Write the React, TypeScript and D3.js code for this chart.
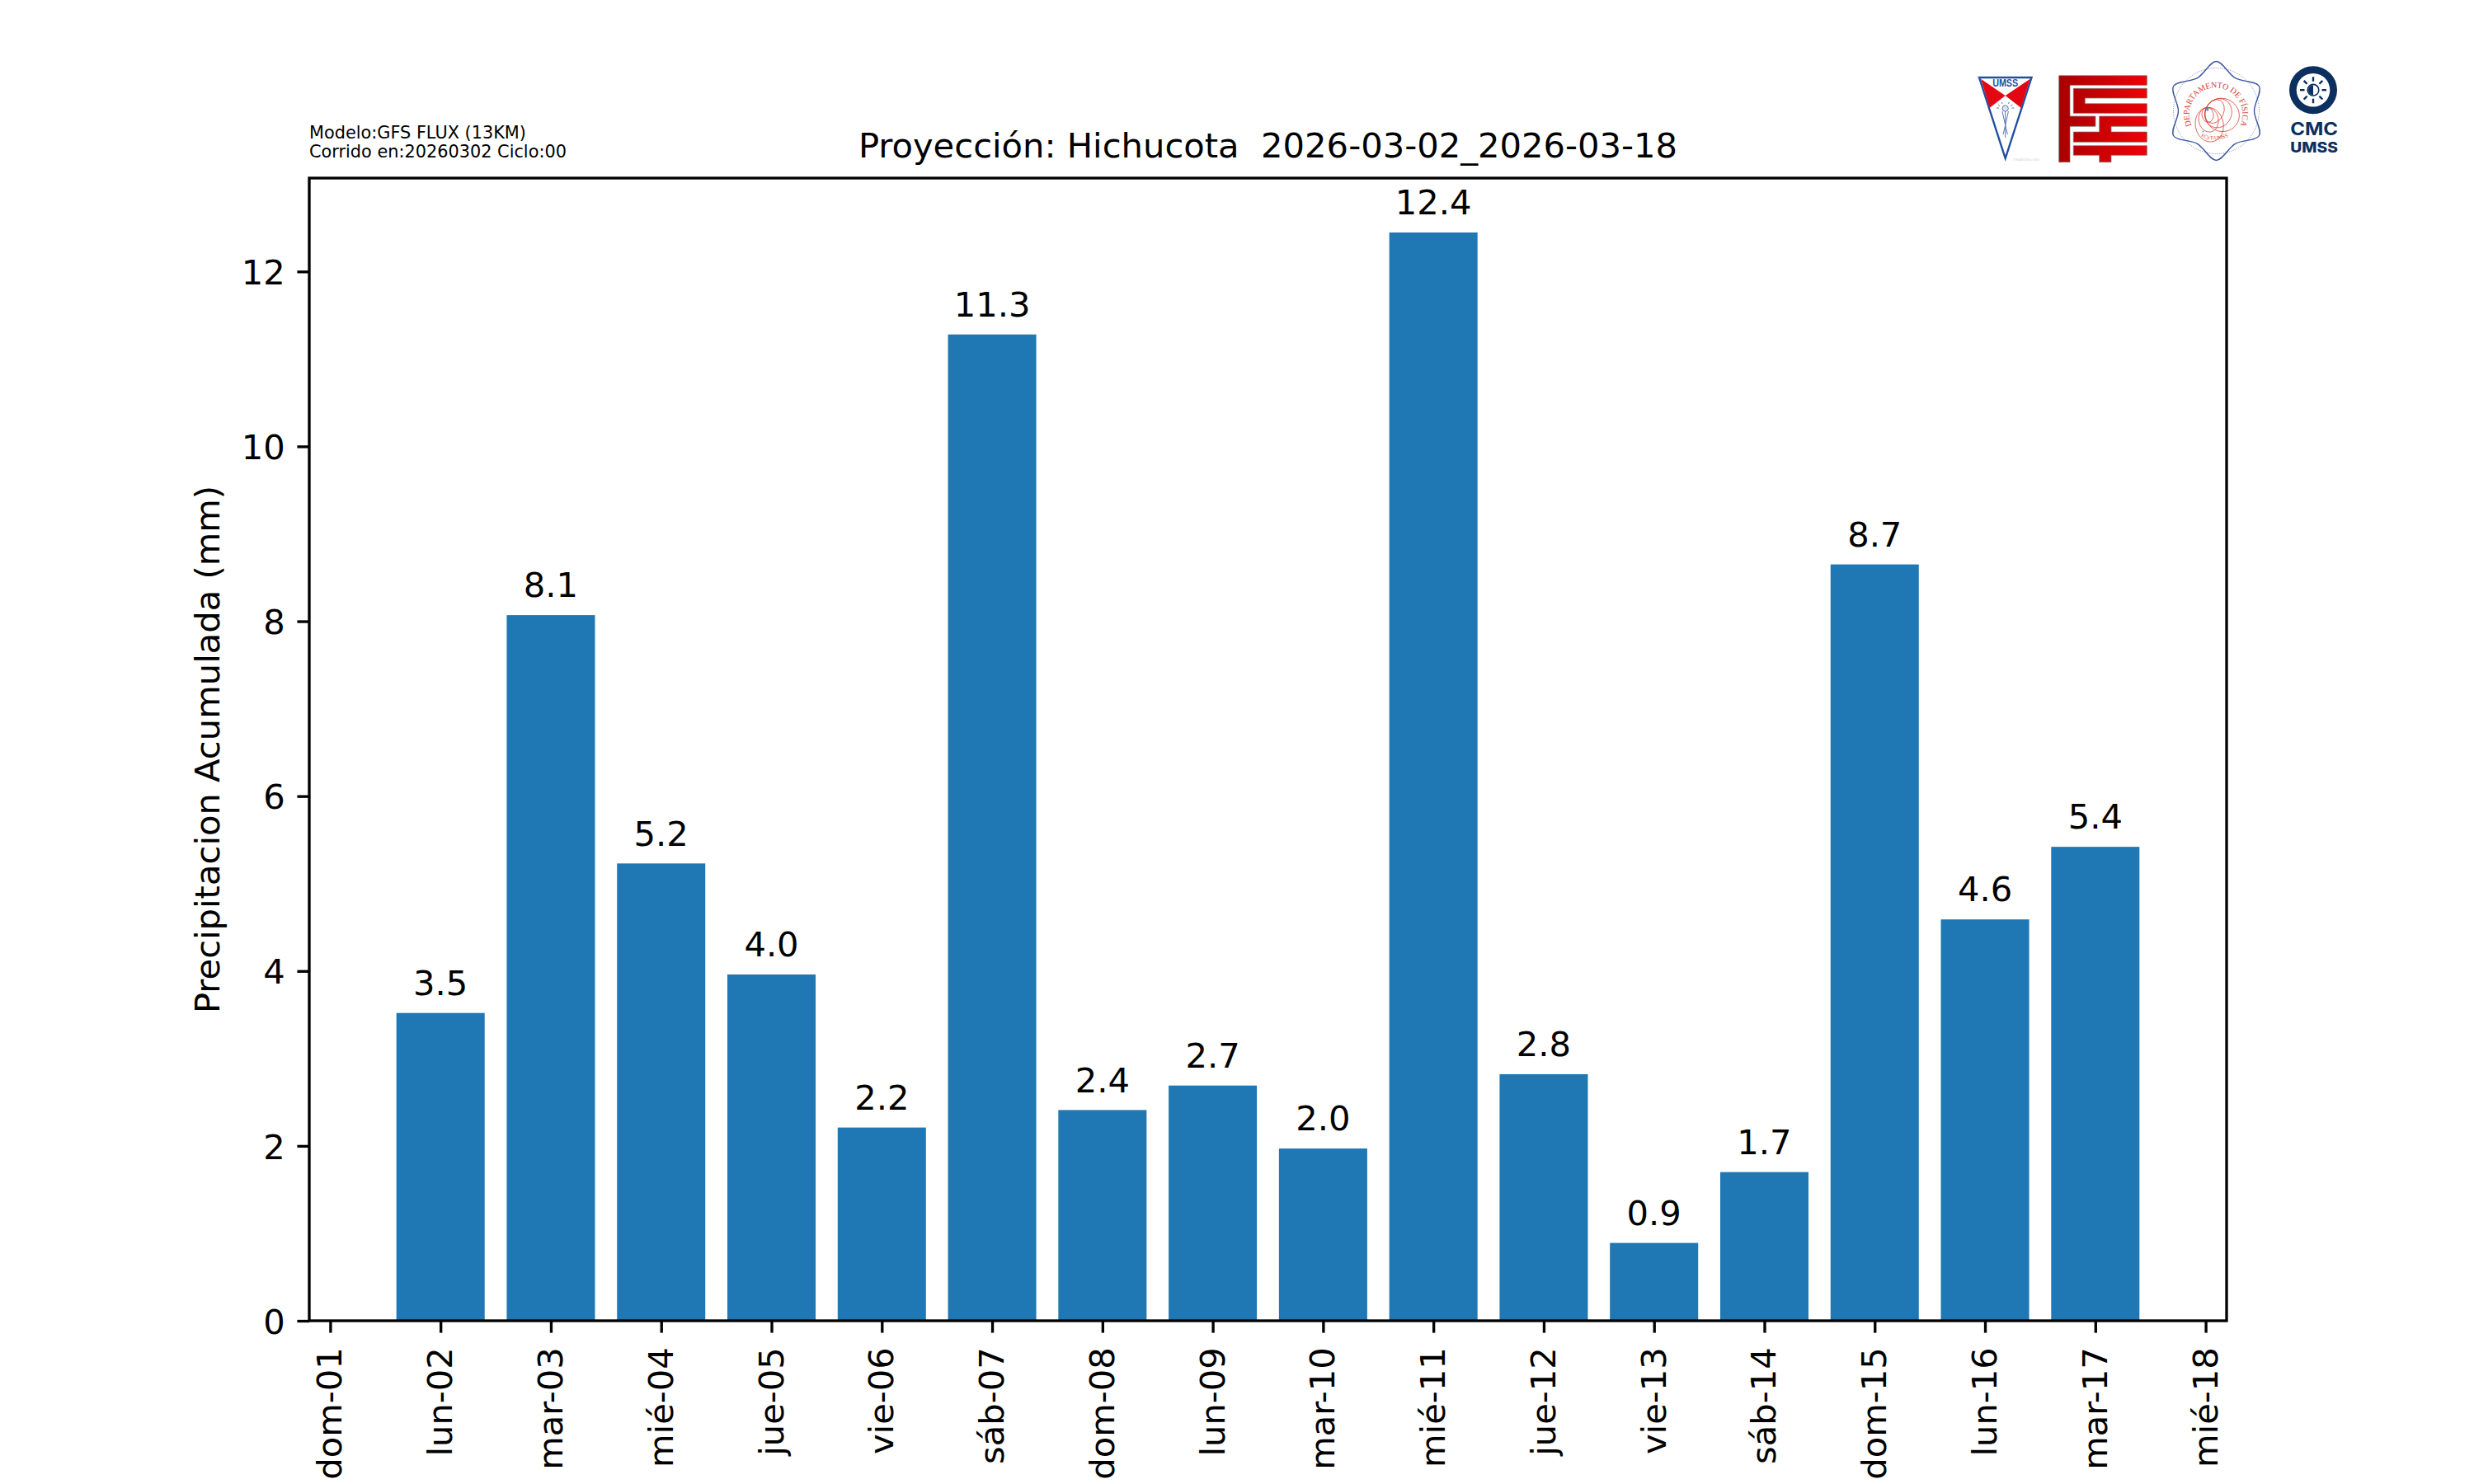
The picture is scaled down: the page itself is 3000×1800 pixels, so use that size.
import { useEffect, useRef } from 'react';
import * as d3 from 'd3';

const dayLabels = ['dom-01', 'lun-02', 'mar-03', 'mié-04', 'jue-05', 'vie-06', 'sáb-07', 'dom-08', 'lun-09', 'mar-10', 'mié-11', 'jue-12', 'vie-13', 'sáb-14', 'dom-15', 'lun-16', 'mar-17', 'mié-18'];
const barDays = [2, 3, 4, 5, 6, 7, 8, 9, 10, 11, 12, 13, 14, 15, 16, 17];
const precip = [3.52, 8.07, 5.23, 3.96, 2.21, 11.28, 2.41, 2.69, 1.97, 12.446, 2.82, 0.89, 1.7, 8.65, 4.59, 5.42];
const yTicks = [0, 2, 4, 6, 8, 10, 12];

const WIDTH = 3000;
const HEIGHT = 1800;
const FONT = '"DejaVu Sans"';
const PT = 300 / 72;
const margin = { top: 216, right: 300, bottom: 198, left: 375 };
const BAR_WIDTH = 0.8;

const RED = '#e30613';
const NAVY = '#0b2f5f';
const SHIELD_BLUE = '#2150a0';
const SEAL_BLUE = '#3c559f';
const SEAL_RED = '#d3392b';

// the four institution logos top right, drawn by hand
function drawLogos(svg: d3.Selection<SVGSVGElement, unknown, null, undefined>) {
  const defs = svg.append('defs');
  const grad = defs.append('linearGradient').attr('id', 'fcyt-red').attr('gradientUnits', 'userSpaceOnUse')
    .attr('x1', 2497).attr('x2', 2603).attr('y1', 0).attr('y2', 0);
  grad.append('stop').attr('offset', '0%').attr('stop-color', '#a80000');
  grad.append('stop').attr('offset', '100%').attr('stop-color', '#f00006');

  // UMSS shield
  const shield = svg.append('g');
  shield.append('path').attr('d', 'M2400,94 L2463.5,94 L2431.7,192 Z').attr('fill', '#fff').attr('stroke', SHIELD_BLUE).attr('stroke-width', 2.4).attr('stroke-linejoin', 'miter');
  shield.append('path').attr('d', 'M2402,95.7 L2431.7,116 L2412.7,130.7 Z').attr('fill', RED);
  shield.append('path').attr('d', 'M2461.7,95.7 L2431.7,116 L2450.7,130.7 Z').attr('fill', RED);
  shield.append('text').attr('x', 2431.7).attr('y', 105.3).attr('text-anchor', 'middle').attr('font-family', '"Liberation Sans"')
    .attr('font-weight', 700).attr('font-size', 12).attr('textLength', 31).attr('lengthAdjust', 'spacingAndGlyphs').attr('fill', SHIELD_BLUE).text('UMSS');
  shield.append('circle').attr('cx', 2431.7).attr('cy', 131.5).attr('r', 3.6).attr('fill', '#dfe4f0').attr('stroke', '#5c78b5').attr('stroke-width', 1);
  shield.append('path')
    .attr('d', 'M2428,135 L2431.7,152 L2429,163 M2435.4,135 L2431.7,152 L2434.4,163 M2431.7,135 L2431.7,167 M2423,127 L2425,128.5 M2440.4,127 L2438.4,128.5 M2421,131 H2424 M2439.4,131 H2442.4 M2427,124 L2428,126 M2436.4,124 L2435.4,126')
    .attr('stroke', '#5c78b5').attr('stroke-width', 1).attr('fill', 'none');
  shield.append('text').attr('x', 2441).attr('y', 195).attr('font-family', FONT).attr('font-size', 4.5)
    .attr('textLength', 32).attr('lengthAdjust', 'spacingAndGlyphs').attr('fill', '#c9ccd6').text('creadictivo.com');

  // FCyT mark
  const fcyt = svg.append('g').attr('fill', 'url(#fcyt-red)').attr('stroke', '#777').attr('stroke-width', 0.7);
  fcyt.append('path').attr('d', 'M2496.7,91.7 H2603.4 V103.3 H2510 V141 H2541 V153.3 H2510 V196.7 H2496.7 Z');
  fcyt.append('path').attr('d', 'M2514.3,107.3 H2603.4 V119 H2528.3 V125.7 H2603.4 V137.3 H2514.3 Z');
  fcyt.append('path').attr('d', 'M2545.7,141 H2603.4 V153.3 H2560 V160 H2603.4 V172.3 H2514.3 V160 H2545.7 Z');
  fcyt.append('path').attr('d', 'M2514.3,176.7 H2603.4 V188.3 H2560 V196.7 H2545.7 V188.3 H2514.3 Z');

  // Departamento de Fisica seal
  const seal = svg.append('g').attr('transform', 'translate(2687.5,134.5)');
  const lobes = d3.range(12).map((i) => [(i * Math.PI) / 6, i % 2 === 0 ? 60 : 46] as [number, number]);
  seal.append('path')
    .attr('d', d3.lineRadial().curve(d3.curveCatmullRomClosed)(lobes))
    .attr('fill', '#fff').attr('stroke', SEAL_BLUE).attr('stroke-width', 1.4);
  seal.append('circle').attr('r', 52).attr('fill', 'none').attr('stroke', SEAL_BLUE).attr('stroke-width', 0.7).attr('stroke-dasharray', '1 1.4');
  defs.append('path').attr('id', 'seal-top').attr('d', 'M-29.5,18.6 A32.4,32.4 0 1 1 28.5,18.6');
  defs.append('path').attr('id', 'seal-bottom').attr('d', 'M-23,29 Q-3,41 19,29');
  seal.append('text').attr('font-family', '"Liberation Serif"').attr('font-size', 10).attr('fill', SEAL_RED)
    .append('textPath').attr('href', '#seal-top').attr('startOffset', '50%').attr('text-anchor', 'middle').text('DEPARTAMENTO DE FÍSICA');
  seal.append('text').attr('font-family', '"Liberation Serif"').attr('font-size', 6.5).attr('fill', SEAL_RED)
    .append('textPath').attr('href', '#seal-bottom').attr('startOffset', '50%').attr('text-anchor', 'middle').text('FCyT-UMSS');
  // globe: ellipses all touching at the pole
  const globeA = seal.append('g').attr('fill', 'none').attr('stroke', SEAL_RED).attr('stroke-width', 0.7).attr('transform', 'translate(-12,-4) rotate(25)');
  [[21, 20], [16, 18], [11, 15]].forEach(([rx, ry]) => {
    globeA.append('ellipse').attr('cx', rx).attr('rx', rx).attr('ry', ry);
  });
  const globeB = seal.append('g').attr('fill', 'none').attr('stroke', SEAL_RED).attr('stroke-width', 0.7).attr('transform', 'translate(-12,-4) rotate(80)');
  [[21, 17], [15, 12], [9, 7]].forEach(([rx, ry]) => {
    globeB.append('ellipse').attr('cx', rx).attr('rx', rx).attr('ry', ry);
  });
  seal.append('circle').attr('cx', -11).attr('cy', -2).attr('r', 1.9).attr('fill', '#6f86bd');
  seal.append('circle').attr('cx', -16).attr('cy', 25).attr('r', 0.9).attr('fill', '#6f86bd');

  // CMC UMSS mark
  const cmc = svg.append('g').attr('transform', 'translate(2805,109.2)');
  cmc.append('circle').attr('r', 29).attr('fill', NAVY);
  cmc.append('circle').attr('r', 20.3).attr('fill', '#fff');
  cmc.append('circle').attr('r', 6.8).attr('fill', 'none').attr('stroke', NAVY).attr('stroke-width', 1.6);
  cmc.append('path').attr('d', 'M0,-6 A6,6 0 0 0 0,6 Z').attr('fill', NAVY);
  d3.range(8).forEach((i) => {
    const a = (i * Math.PI) / 4;
    cmc.append('line')
      .attr('x1', Math.cos(a) * 10.5).attr('y1', Math.sin(a) * 10.5)
      .attr('x2', Math.cos(a) * 16).attr('y2', Math.sin(a) * 16)
      .attr('stroke', NAVY).attr('stroke-width', 2.4);
  });
  svg.append('text').attr('x', 2777.3).attr('y', 164.3).attr('font-family', 'Inter').attr('font-weight', 700).attr('font-size', 21.5)
    .attr('textLength', 57.7).attr('lengthAdjust', 'spacingAndGlyphs').attr('fill', NAVY).text('CMC');
  svg.append('text').attr('x', 2777.3).attr('y', 185).attr('font-family', 'Inter').attr('font-weight', 800).attr('font-size', 17)
    .attr('textLength', 57.7).attr('lengthAdjust', 'spacingAndGlyphs').attr('fill', NAVY).text('UMSS');
}

export default function App() {
  const svgRef = useRef<SVGSVGElement>(null);

  useEffect(() => {
    if (!svgRef.current) return;
    const svg = d3.select(svgRef.current);
    svg.selectAll('*').remove();

    const innerWidth = WIDTH - margin.left - margin.right;
    const innerHeight = HEIGHT - margin.top - margin.bottom;

    // matplotlib default: 5% margin around the bars
    const barMin = d3.min(barDays)! - BAR_WIDTH / 2;
    const barMax = d3.max(barDays)! + BAR_WIDTH / 2;
    const pad = (barMax - barMin) * 0.05;
    const x = d3.scaleLinear().domain([barMin - pad, barMax + pad]).range([0, innerWidth]);
    const y = d3.scaleLinear().domain([0, d3.max(precip)! * 1.05]).range([innerHeight, 0]);

    svg.append('rect').attr('width', WIDTH).attr('height', HEIGHT).attr('fill', '#fff');
    const g = svg.append('g').attr('transform', `translate(${margin.left},${margin.top})`);

    g.selectAll('.bar')
      .data(precip)
      .enter()
      .append('rect')
      .attr('class', 'bar')
      .attr('x', (_, i) => x(barDays[i] - BAR_WIDTH / 2))
      .attr('y', (d) => y(d))
      .attr('width', (_, i) => x(barDays[i] + BAR_WIDTH / 2) - x(barDays[i] - BAR_WIDTH / 2))
      .attr('height', (d) => innerHeight - y(d))
      .attr('fill', '#1f77b4');

    g.selectAll('.bar-label')
      .data(precip)
      .enter()
      .append('text')
      .attr('class', 'bar-label')
      .attr('x', (_, i) => x(barDays[i]))
      .attr('y', (d) => y(d) - 21.7)
      .attr('text-anchor', 'middle')
      .attr('font-family', FONT)
      .attr('font-size', 10 * PT)
      .attr('fill', '#000')
      .text((d) => d.toFixed(1));

    const tickSize = 3.5 * PT;
    const xAxis = d3
      .axisBottom(x)
      .tickValues(dayLabels.map((_, i) => i + 1))
      .tickFormat((_, i) => dayLabels[i])
      .tickSize(tickSize)
      .tickPadding(3.5 * PT);
    const xAxisG = g.append('g').attr('transform', `translate(0,${innerHeight})`).call(xAxis);
    xAxisG.selectAll('text')
      .attr('transform', 'rotate(-90)')
      .attr('x', -(tickSize + 3.5 * PT + 3))
      .attr('y', 13.5)
      .attr('dy', 0)
      .style('text-anchor', 'end');

    const yAxis = d3.axisLeft(y).tickValues(yTicks).tickFormat(d3.format('d')).tickSize(tickSize).tickPadding(3.5 * PT);
    const yAxisG = g.append('g').call(yAxis);
    yAxisG.selectAll('text').attr('dy', '0.364em');

    [xAxisG, yAxisG].forEach((axis) => {
      axis.attr('font-family', FONT).attr('font-size', 10 * PT);
      axis.select('.domain').remove();
      axis.selectAll('line').attr('stroke', '#000').attr('stroke-width', 0.8 * PT);
    });

    g.append('rect')
      .attr('width', innerWidth)
      .attr('height', innerHeight)
      .attr('fill', 'none')
      .attr('stroke', '#000')
      .attr('stroke-width', 0.8 * PT);

    svg.append('text')
      .attr('x', margin.left + innerWidth / 2)
      .attr('y', margin.top - 6 * PT)
      .attr('text-anchor', 'middle')
      .attr('font-family', FONT)
      .attr('font-size', 10 * PT)
      .style('white-space', 'pre')
      .text('Proyección: Hichucota  2026-03-02_2026-03-18');

    svg.append('text')
      .attr('transform', `translate(266,${margin.top + innerHeight / 2}) rotate(-90)`)
      .attr('text-anchor', 'middle')
      .attr('font-family', FONT)
      .attr('font-size', 10 * PT)
      .text('Precipitacion Acumulada (mm)');

    ['Modelo:GFS FLUX (13KM)', 'Corrido en:20260302 Ciclo:00'].forEach((line, i) => {
      svg.append('text')
        .attr('x', 375)
        .attr('y', 167.5 + i * 23.5)
        .attr('font-family', FONT)
        .attr('font-size', 5 * PT)
        .text(line);
    });

    drawLogos(svg);
  }, []);

  return <svg ref={svgRef} width={WIDTH} height={HEIGHT} style={{ position: 'absolute', left: 0, top: 0 }} />;
}
